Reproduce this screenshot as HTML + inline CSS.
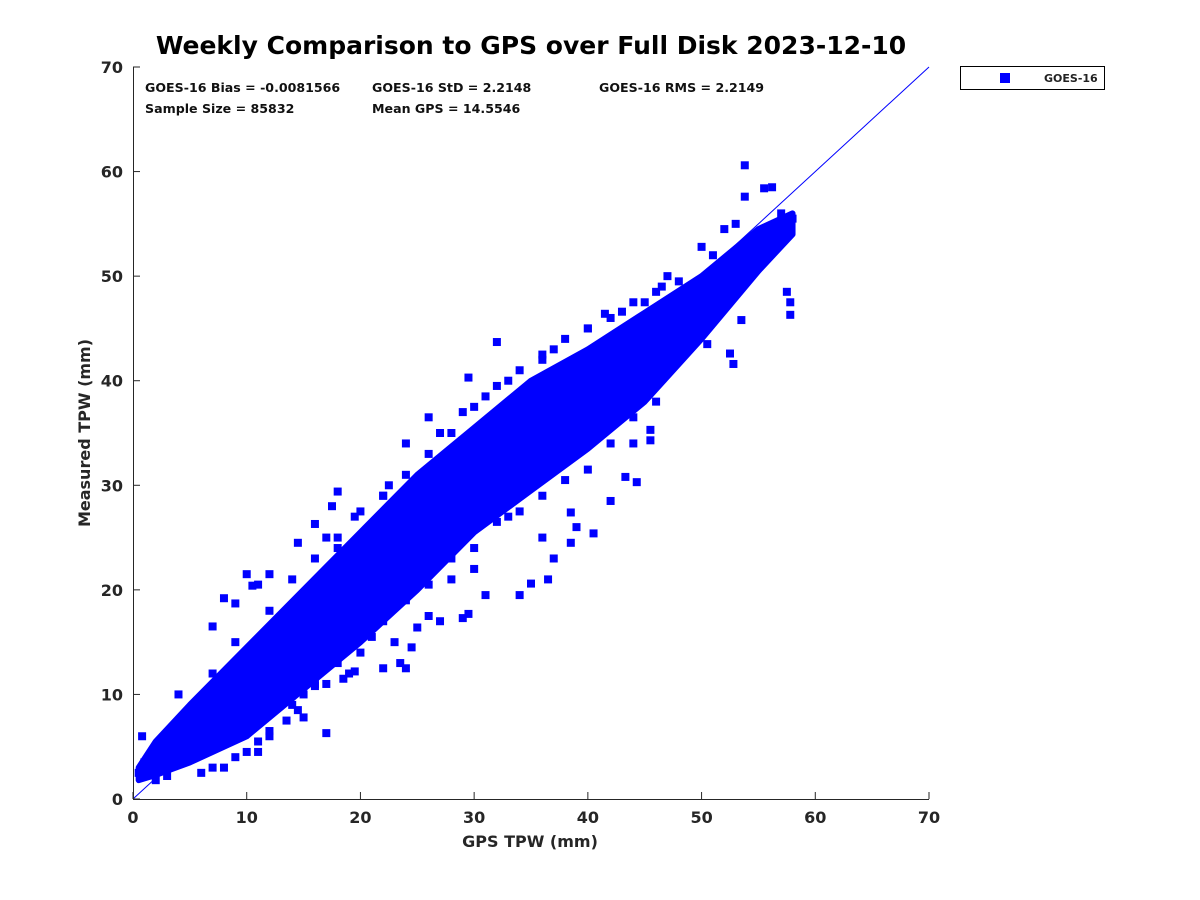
<!DOCTYPE html>
<html><head><meta charset="utf-8"><style>
html,body{margin:0;padding:0;background:#fff;}
svg{display:block;font-family:"DejaVu Sans","Liberation Sans",sans-serif;font-weight:bold;}
</style></head><body>
<svg id="chart" width="1200" height="900" viewBox="0 0 1200 900">
<rect width="1200" height="900" fill="#fff"/>
<text x="531" y="54" font-size="25" text-anchor="middle" fill="#000">Weekly Comparison to GPS over Full Disk 2023-12-10</text>
<g id="plot"></g>
<g font-size="12.6" fill="#111">
<text x="145" y="92">GOES-16 Bias = -0.0081566</text>
<text x="372" y="92">GOES-16 StD = 2.2148</text>
<text x="599" y="92">GOES-16 RMS = 2.2149</text>
<text x="145" y="113">Sample Size = 85832</text>
<text x="372" y="113">Mean GPS = 14.5546</text>
</g>
<g>
<rect x="960.5" y="66.5" width="144" height="23" fill="#fff" stroke="#000"/>
<rect x="1000" y="73" width="10" height="10" fill="#0000ff"/>
<text x="1044" y="82" font-size="11" fill="#222">GOES-16</text>
</g>
<text x="530" y="847" font-size="16" text-anchor="middle" fill="#262626">GPS TPW (mm)</text>
<text transform="translate(90,433) rotate(-90)" font-size="16" text-anchor="middle" fill="#262626">Measured TPW (mm)</text>
</svg>
<script>
const xTicks=[0,10,20,30,40,50,60,70];
const yTicks=[0,10,20,30,40,50,60,70];
// dense core envelope: gps bins with lower/upper measured values
const coreX=[0.5,2,5,10,15,20,25,30,35,40,45,50,55,58];
const coreLo=[1.8,2.3,3.5,6,10.5,15,20,25.5,29.5,33.5,38,44,50.5,54];
const coreHi=[3,5.5,9,14.5,20,25.5,31,35.5,40,43,46.5,50,54.5,56];
const ptX=[53.8,53.8,55.5,56.2,57.5,57.8,57.8,53.5,52.5,52.8,50.5,48.5,40.5,43.3,44.3,45.5,45.5,48.2,38.5,37,36.5,38.5,34,35,31,29,29.5,27,25,26,24,23.5,24.5,22,19,19.5,20,18.5,15,16,17,19,21,14.5,13.5,12,11,17,15,8,9,10,10.5,12,11,14.5,16,17,18,17.5,18,19.5,22,22.5,24,26,27,29,29.5,31,33,32,36,37,40,41.5,43,45,46.5,47,50,51,52,53,0.8,0.5,1,6,8,9,6,7,5,4,56,57,58,54,55,42,44,46,47,39,36,33,30,28,26,23,21,13,12,3,2,11,7,51,49,7,9,12,14,16,18,20,22,24,26,28,30,32,34,36,38,40,42,44,46,48,10,12,14,16,18,20,22,24,26,28,30,32,34,36,38,40,42,44];
const ptY=[60.6,57.6,58.4,58.5,48.5,47.5,46.3,45.8,42.6,41.6,43.5,44.2,25.4,30.8,30.3,34.3,35.3,42.6,27.4,23,21,24.5,19.5,20.6,19.5,17.3,17.7,17,16.4,17.5,12.5,13,14.5,12.5,12,12.2,14,11.5,10,10.8,11,16,18,8.5,7.5,6,5.5,6.3,7.8,19.2,18.7,21.5,20.4,21.5,20.5,24.5,26.3,25,24,28,29.4,27,29,30,34,36.5,35,37,40.3,38.5,40,43.7,42,43,45,46.4,46.6,47.5,49,50,52.8,52,54.5,55,6,2.5,3.5,2.5,3,4,9,16.5,8,10,54,56,55.5,52.5,51.5,28.5,34,38,45.5,26,25,27,22,21,20.5,15,15.5,14,13,2.2,1.8,4.5,3,46,47,12,15,18,21,23,25,27.5,29,31,33,35,37.5,39.5,41,42.5,44,45,46,47.5,48.5,49.5,4.5,6.5,9,11,13,15.5,17,19,21.5,23,24,26.5,27.5,29,30.5,31.5,34,36.5];
const X0=133,X1=929,Y0=799,Y1=67;
const sx=v=>X0+(v-0)/(70-0)*(X1-X0);
const sy=v=>Y0-(v-0)/(70-0)*(Y0-Y1);
const NS='http://www.w3.org/2000/svg';
const plot=document.getElementById('plot');
function mk(t,a){const e=document.createElementNS(NS,t);for(const k in a)e.setAttribute(k,a[k]);plot.appendChild(e);return e;}
let pts=[];
for(let i=0;i<coreX.length;i++)pts.push(sx(coreX[i])+','+sy(coreHi[i]));
for(let i=coreX.length-1;i>=0;i--)pts.push(sx(coreX[i])+','+sy(coreLo[i]));
const core=mk('polygon',{points:pts.join(' '),fill:'#0000ff',stroke:'#0000ff','stroke-width':'6','stroke-linejoin':'round'});


for(let i=0;i<ptX.length;i++){
 const r=mk('rect',{x:sx(ptX[i])-4,y:sy(ptY[i])-4,width:8,height:8,fill:'#0000ff'});
 
 
}
const ln=mk('line',{x1:sx(0),y1:sy(0),x2:sx(70),y2:sy(70),stroke:'#0000ff','stroke-width':1});


const ax=mk('path',{d:`M${X0+0.5},${Y1}V${Y0+0.5}H${X1}`,fill:'none',stroke:'#262626','stroke-width':1});


xTicks.forEach(v=>{
 const t=mk('line',{x1:sx(v),y1:Y0,x2:sx(v),y2:Y0-7,stroke:'#262626'});
 
 
 const l=mk('text',{x:sx(v),y:Y0+24,'font-size':16,'text-anchor':'middle',fill:'#262626'});
 l.textContent=v;
 
 
});
yTicks.forEach(v=>{
 const t=mk('line',{x1:X0,y1:sy(v),x2:X0+7,y2:sy(v),stroke:'#262626'});
 
 
 const l=mk('text',{x:X0-10,y:sy(v)+6,'font-size':16,'text-anchor':'end',fill:'#262626'});
 l.textContent=v;
 
 
});
</script>
</body></html>
